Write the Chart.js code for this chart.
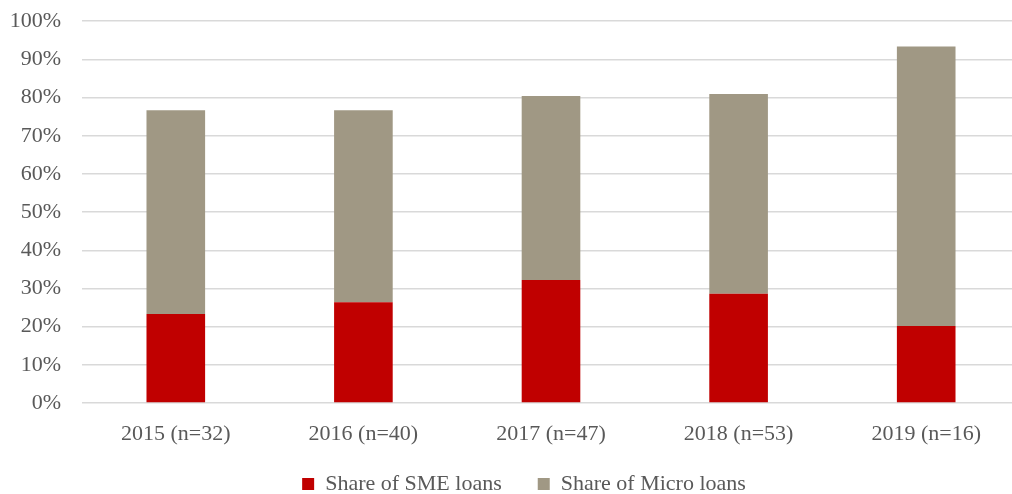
<!DOCTYPE html>
<html>
<head>
<meta charset="utf-8">
<script src="https://cdn.jsdelivr.net/npm/chart.js@4/dist/chart.umd.min.js"></script>
<style>
    html, body { margin: 0; padding: 0; background: #fff; overflow: hidden; }
    #wrap { width: 1012px; height: 494px; overflow: hidden; }
    #loanChart { display: block; margin-top: -13px; }
</style>
</head>
<body>
<div id="wrap">
    <canvas id="loanChart" width="1048" height="507"></canvas>
</div>
<script>
// Dados do gráfico (em %)
const categorias = ['2015 (n=32)', '2016 (n=40)', '2017 (n=47)', '2018 (n=53)', '2019 (n=16)'];
const shareSME = [23.3, 26.4, 32.2, 28.6, 20.2];
const shareMicro = [53.4, 50.3, 48.2, 52.3, 73.2];

const fonteBase = 'Liberation Serif, Times New Roman, serif';
const corTexto = '#595959';

// Deixa os rótulos dos eixos desenharem fora da área de cada eixo
const unclipLabels = {
    id: 'unclipLabels',
    afterLayout(chart) {
        chart.scales.y.left = 0;
        chart.scales.x.bottom = chart.height;
    }
};

const ctx = document.getElementById('loanChart').getContext('2d');

const loanChart = new Chart(ctx, {
    type: 'bar',
    data: {
        labels: categorias,
        datasets: [
            {
                label: 'Share of SME loans',
                data: shareSME,
                backgroundColor: '#c00000'
            },
            {
                label: 'Share of Micro loans',
                data: shareMicro,
                backgroundColor: '#a09884'
            }
        ]
    },
    plugins: [unclipLabels],
    options: {
        responsive: false,
        animation: false,
        layout: {
            padding: { left: 28, right: 28, top: 0, bottom: -11 }
        },
        datasets: {
            bar: {
                categoryPercentage: 1,
                barPercentage: 0.3125
            }
        },
        scales: {
            x: {
                stacked: true,
                afterFit: (scale) => { scale.height = 34; },
                grid: { display: false },
                border: { display: false },
                ticks: {
                    color: corTexto,
                    padding: 10,
                    font: { family: fonteBase, size: 22 }
                }
            },
            y: {
                stacked: true,
                min: 0,
                max: 100,
                afterFit: (scale) => { scale.width = 54; },
                grid: {
                    color: '#d9d9d9',
                    lineWidth: 1.5,
                    drawTicks: false
                },
                border: { display: false },
                ticks: {
                    stepSize: 10,
                    padding: 21,
                    color: corTexto,
                    font: { family: fonteBase, size: 22 },
                    callback: (v) => v + '%'
                }
            }
        },
        plugins: {
            legend: {
                position: 'bottom',
                labels: {
                    boxWidth: 12,
                    boxHeight: 12,
                    padding: 36,
                    color: corTexto,
                    font: { family: fonteBase, size: 22 }
                }
            },
            tooltip: { enabled: false }
        }
    }
});
</script>
</body>
</html>
